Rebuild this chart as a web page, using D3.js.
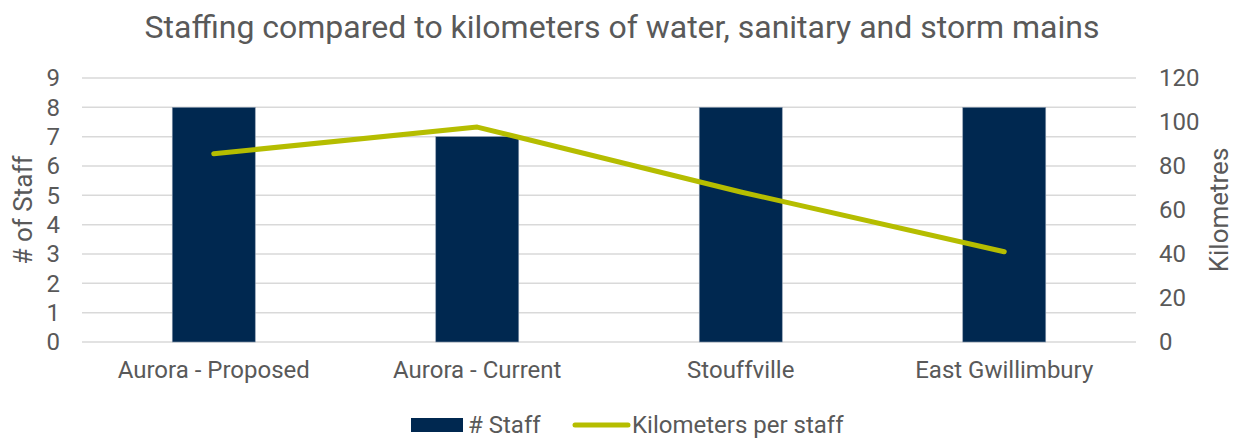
<!DOCTYPE html>
<html>
<head>
<meta charset="utf-8">
<script src="https://cdn.jsdelivr.net/npm/d3@7"></script>
<style>
  body { margin: 0; background: #fff; }
  text { font-family: Roboto, sans-serif; fill: #595959; }
</style>
</head>
<body>
<div id="chart"></div>
<script>
// Chart data.
const categories = ['Aurora - Proposed', 'Aurora - Current', 'Stouffville', 'East Gwillimbury']
const staff = [8, 7, 8, 8]
const kmPerStaff = [85.6, 97.7, 68.2, 41]
const staffTicks = [0, 1, 2, 3, 4, 5, 6, 7, 8, 9]
const kmTicks = [0, 20, 40, 60, 80, 100, 120]

const width = 1244, height = 438
const margin = { top: 78, right: 108, bottom: 96, left: 82 }

const svg = d3.select('#chart')
  .append('svg')
    .attr('width', width)
    .attr('height', height)

const x = d3.scaleBand()
  .domain(categories)
  .range([margin.left, width - margin.right])
  .padding(0)

const yLeft = d3.scaleLinear()
  .domain([0, 9])
  .range([height - margin.bottom, margin.top])

const yRight = d3.scaleLinear()
  .domain([0, 120])
  .range([height - margin.bottom, margin.top])

// Gridlines.
svg.append('g')
  .selectAll('line')
  .data(staffTicks)
  .enter()
  .append('line')
    .attr('x1', margin.left)
    .attr('x2', width - margin.right)
    .attr('y1', d => yLeft(d))
    .attr('y2', d => yLeft(d))
    .attr('stroke', '#d9d9d9')
    .attr('stroke-width', 1.5)

// Bars.
const barW = x.bandwidth() * 0.315
svg.append('g')
  .selectAll('rect')
  .data(categories)
  .enter()
  .append('rect')
    .attr('x', d => x(d) + x.bandwidth() / 2 - barW / 2)
    .attr('y', (d, i) => yLeft(staff[i]))
    .attr('width', barW)
    .attr('height', (d, i) => yLeft(0) - yLeft(staff[i]))
    .attr('fill', '#002850')
    .attr('stroke', '#8a9ab0')
    .attr('stroke-width', 0.6)

// Line.
const line = d3.line()
  .x((d, i) => x(categories[i]) + x.bandwidth() / 2)
  .y(d => yRight(d))

svg.append('path')
  .datum(kmPerStaff)
  .attr('d', line)
  .attr('fill', 'none')
  .attr('stroke', '#b5bd00')
  .attr('stroke-width', 5)
  .attr('stroke-linecap', 'round')
  .attr('stroke-linejoin', 'round')

// Left axis.
const leftAxis = svg.append('g')
  .attr('transform', 'translate(' + (margin.left - 22) + ',0)')
  .call(d3.axisLeft(yLeft).tickValues(staffTicks).tickSize(0).tickPadding(0))
leftAxis.select('.domain').remove()
leftAxis.selectAll('text')
  .style('font-size', '24px')
  .attr('fill', '#595959')

// Right axis.
const rightAxis = svg.append('g')
  .attr('transform', 'translate(' + (width - margin.right + 23) + ',0)')
  .call(d3.axisRight(yRight).tickValues(kmTicks).tickSize(0).tickPadding(0))
rightAxis.select('.domain').remove()
rightAxis.selectAll('text')
  .style('font-size', '24px')
  .attr('fill', '#595959')

// Category axis.
const bottomAxis = svg.append('g')
  .attr('transform', 'translate(0,' + (height - margin.bottom) + ')')
  .call(d3.axisBottom(x).tickSize(0).tickPadding(19))
bottomAxis.select('.domain').remove()
bottomAxis.selectAll('text')
  .style('font-size', '24px')
  .attr('fill', '#595959')

// Title.
svg.append('text')
  .attr('x', 622)
  .attr('y', 38)
  .attr('text-anchor', 'middle')
  .style('font-size', '32px')
  .text('Staffing compared to kilometers of water, sanitary and storm mains')

// Axis titles.
svg.append('text')
  .attr('transform', 'translate(32,' + ((margin.top + height - margin.bottom) / 2) + ') rotate(-90)')
  .attr('text-anchor', 'middle')
  .style('font-size', '26px')
  .text('# of Staff')

svg.append('text')
  .attr('transform', 'translate(1228,' + ((margin.top + height - margin.bottom) / 2) + ') rotate(-90)')
  .attr('text-anchor', 'middle')
  .style('font-size', '26px')
  .text('Kilometres')

// Legend.
const legend = svg.append('g')
legend.append('rect')
  .attr('x', 411)
  .attr('y', 418)
  .attr('width', 52)
  .attr('height', 14)
  .attr('fill', '#002850')
legend.append('text')
  .attr('x', 468)
  .attr('y', 433)
  .style('font-size', '24px')
  .text('# Staff')
legend.append('line')
  .attr('x1', 575)
  .attr('x2', 628)
  .attr('y1', 425)
  .attr('y2', 425)
  .attr('stroke', '#b5bd00')
  .attr('stroke-width', 5)
  .attr('stroke-linecap', 'round')
legend.append('text')
  .attr('x', 632)
  .attr('y', 433)
  .style('font-size', '24px')
  .text('Kilometers per staff')
</script>
</body>
</html>
